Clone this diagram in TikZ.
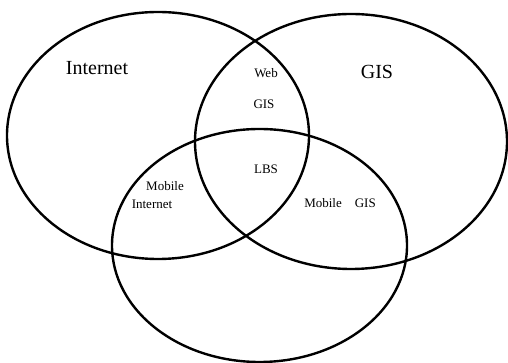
\documentclass[tikz,border=0pt]{standalone}
\usepackage{fontspec}
\setmainfont{Liberation Serif}
\usetikzlibrary{shapes.geometric}

\begin{document}
\begin{tikzpicture}[
        x=1pt, y=1pt,
        set/.style={draw, ellipse, line width=2.4pt, inner sep=0pt},
        bigl/.style={font=\fontsize{20}{24}\selectfont},
        smalll/.style={font=\fontsize{13}{15}\selectfont, align=center},
    ]
    \useasboundingbox (0,0) rectangle (508,363);
    % the three sets
    \node[set, minimum width=302pt, minimum height=247pt](internet) at (158,227.5){};
    \node[set, minimum width=312pt, minimum height=255pt](gis) at (351,221.5){};
    \node[set, minimum width=295pt, minimum height=233pt](mobile) at (259.5,117.5){};
    % set names
    \node[bigl](internetl) at (97,295){Internet};
    \node[bigl](gisl) at (377,291){GIS};
    % overlaps
    \node[smalll](web) at (266,290){Web};
    \node[smalll](webgis) at (264,259){GIS};
    \node[smalll](lbs) at (266,194){LBS};
    \node[smalll](mobint1) at (165,177){Mobile};
    \node[smalll](mobint2) at (152,159){Internet};
    \node[smalll](mobgis) at (340,160){Mobile\quad GIS};
\end{tikzpicture}
\end{document}
